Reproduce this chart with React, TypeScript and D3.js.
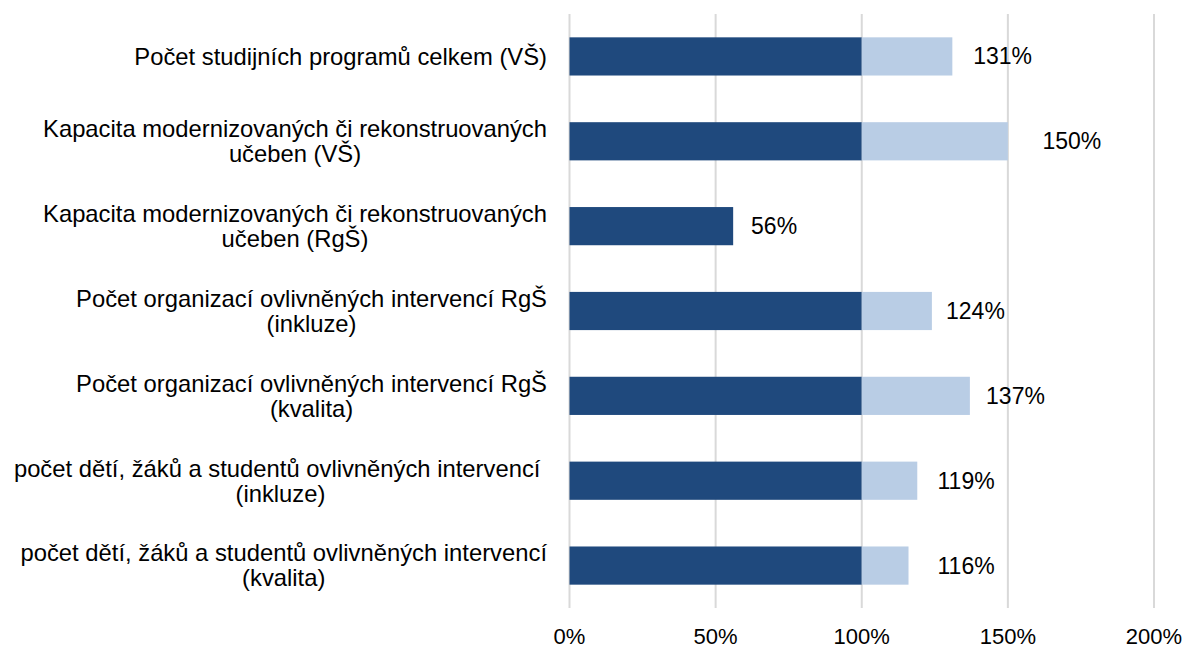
import React from "react";
import * as d3 from "d3";

const categories: string[][] = [
  ["Počet studijních programů celkem (VŠ)"],
  ["Kapacita modernizovaných či rekonstruovaných", "učeben (VŠ)"],
  ["Kapacita modernizovaných či rekonstruovaných", "učeben (RgŠ)"],
  ["Počet organizací ovlivněných intervencí RgŠ", "(inkluze)"],
  ["Počet organizací ovlivněných intervencí RgŠ", "(kvalita)"],
  ["počet dětí, žáků a studentů ovlivněných intervencí ", "(inkluze)"],
  ["počet dětí, žáků a studentů ovlivněných intervencí", "(kvalita)"],
];
const values: number[] = [131, 150, 56, 124, 137, 119, 116];
// where each value label sits (label centre, in axis units)
const labelAt: number[] = [148.2, 171.9, 70.0, 138.9, 152.6, 135.7, 135.7];
const ticks: number[] = [0, 50, 100, 150, 200];

const W = 1187;
const H = 645;
const FONT = "'Liberation Sans', Arial, sans-serif";
const CAT_FS = 23.8;
const VAL_FS = 23;
const TICK_FS = 22;

let ctx: CanvasRenderingContext2D | null = null;
function measure(t: string): number {
  if (!ctx) ctx = document.createElement("canvas").getContext("2d");
  if (!ctx) return t.length * 11;
  ctx.font = `${CAT_FS}px ${FONT}`;
  return ctx.measureText(t).width;
}

export default function App() {
  const left = 569.5;
  const right = 1154;
  const top = 14;
  const bottom = 608;
  const x = d3.scaleLinear().domain([0, 200]).range([left, right]);
  const y = d3
    .scaleBand<number>()
    .domain(d3.range(categories.length))
    .range([top, bottom])
    .paddingInner(0.55)
    .paddingOuter(0.275);
  const bh = y.bandwidth();
  const labelRight = 547;
  const lh = 25;

  return (
    <svg width={W} height={H} style={{ position: "absolute", left: 0, top: 0 }} fontFamily={FONT}>
      <rect width={W} height={H} fill="#fff" />
      {ticks.map((t) => (
        <line key={t} x1={x(t)} x2={x(t)} y1={top} y2={bottom} stroke="#D9D9D9" strokeWidth={2} />
      ))}
      {values.map((v, i) => {
        const y0 = y(i)!;
        const dark = Math.min(v, 100);
        return (
          <g key={i}>
            <rect x={x(0)} y={y0} width={x(dark) - x(0)} height={bh} fill="#1F497D" />
            {v > 100 && (
              <rect x={x(100)} y={y0} width={x(v) - x(100)} height={bh} fill="#B9CDE5" />
            )}
          </g>
        );
      })}
      {values.map((v, i) => {
        const cy = y(i)! + bh / 2;
        return (
          <text key={i} x={x(labelAt[i])} y={cy} dy="0.35em" fontSize={VAL_FS} fill="#000" textAnchor="middle">
            {v}%
          </text>
        );
      })}
      {categories.map((lines, i) => {
        const cy = y(i)! + bh / 2;
        const maxW = Math.max(...lines.map(measure));
        const cx = labelRight - maxW / 2;
        const startY = cy - ((lines.length - 1) * lh) / 2;
        return (
          <text key={i} fontSize={CAT_FS} fill="#000" textAnchor="middle" style={{ whiteSpace: "pre" }}>
            {lines.map((l, j) => (
              <tspan key={j} x={cx} y={startY + j * lh} dy="0.35em">
                {l}
              </tspan>
            ))}
          </text>
        );
      })}
      {ticks.map((t) => (
        <text key={t} x={x(t)} y={636} dy="0.35em" textAnchor="middle" fontSize={TICK_FS} fill="#000">
          {t}%
        </text>
      ))}
    </svg>
  );
}
